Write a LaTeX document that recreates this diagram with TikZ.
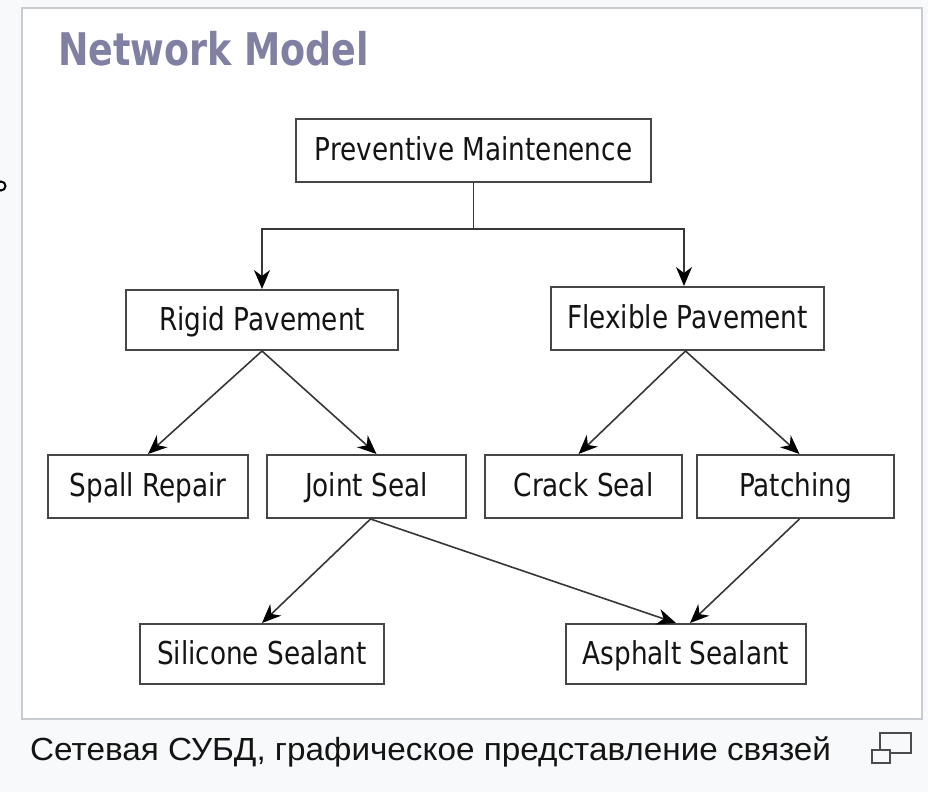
\documentclass[tikz,border=0pt]{standalone}
\usepackage{fontspec}
\setmainfont{DejaVu Sans}
\newfontfamily\capfont{Liberation Sans}
\usetikzlibrary{arrows.meta,calc}

\definecolor{pagebg}{RGB}{248,249,250}
\definecolor{framegray}{RGB}{200,204,209}
\definecolor{titlecol}{RGB}{128,128,162}
\definecolor{boxline}{RGB}{70,70,70}
\definecolor{linkline}{RGB}{55,55,55}
\definecolor{txt}{RGB}{20,20,20}

% box labels: slightly narrowed sans text
\newcommand{\boxlbl}[1]{\scalebox{0.835}[1]{\fontsize{31.5}{32}\selectfont #1}}

\tikzset{
  stepbox/.style={draw=boxline, line width=2pt, fill=white, minimum height=60pt,
    inner sep=0pt, text=txt, anchor=center, text height=25pt, text depth=5pt},
  link/.style={draw=linkline, line width=1.6pt,
    -{Stealth[length=19pt,width=16pt,inset=6pt,fill=black,color=black]}},
  plain/.style={draw=linkline, line width=1.6pt},
}

\begin{document}
\begin{tikzpicture}[x=1pt,y=-1pt]
  \useasboundingbox (0,0) rectangle (928,792);
  \fill[pagebg] (0,0) rectangle (928,792);
  \draw[framegray, line width=2pt, fill=white] (22,8) rectangle (922,719);

  % stray ring at the left edge
  \draw[black, line width=2pt] (1,186) circle (4.5);

  % heading
  \node[anchor=west, text=titlecol, inner sep=0pt] (title) at (58,49)
    {\scalebox{0.81}[1]{\fontsize{45}{46}\selectfont\bfseries Network Model}};

  % boxes
  \node[stepbox, minimum width=355pt, minimum height=63pt] (pm) at (473.5,150.5)
    {\boxlbl{Preventive Maintenence}};
  \node[stepbox, minimum width=272pt] (rigid) at (262,320) {\boxlbl{Rigid Pavement}};
  \node[stepbox, minimum width=273pt, minimum height=63pt] (flex) at (687.5,318.5) {\boxlbl{Flexible Pavement}};
  \node[stepbox, minimum width=200pt, minimum height=63pt] (spall) at (148,486.5) {\boxlbl{Spall Repair}};
  \node[stepbox, minimum width=199pt, minimum height=63pt] (joint) at (366.5,486.5) {\boxlbl{Joint Seal}};
  \node[stepbox, minimum width=197pt, minimum height=63pt] (crack) at (583.5,486.5) {\boxlbl{Crack Seal}};
  \node[stepbox, minimum width=197pt, minimum height=63pt] (patch) at (795.5,486.5) {\boxlbl{Patching}};
  \node[stepbox, minimum width=244pt] (silicone) at (262,654) {\boxlbl{Silicone Sealant}};
  \node[stepbox, minimum width=240pt] (asphalt) at (686,654) {\boxlbl{Asphalt Sealant}};

  % connectors
  \coordinate (split) at (473.5,229);
  \draw[plain] (pm.south) -- (split);
  \draw[link] (split) -| (rigid.north);
  \draw[link] (split) -| ($(flex.north)+(-3.5,0)$);
  \draw[link] (rigid.south) -- (spall.north);
  \draw[link] (rigid.south) -- ($(joint.north)+(10,0)$);
  \draw[link] ($(flex.south)+(-2,0)$) -- ($(crack.north)+(-5,0)$);
  \draw[link] ($(flex.south)+(-2,0)$) -- ($(patch.north)+(4,0)$);
  \draw[link] ($(joint.south)+(4,0)$) -- (silicone.north);
  \draw[link] ($(joint.south)+(4,0)$) -- ($(asphalt.north)+(-10,0)$);
  \draw[link] ($(patch.south)+(4,0)$) -- ($(asphalt.north)+(4,0)$);

  % caption under the frame
  \node[anchor=west, inner sep=0pt, text=txt] (caption) at (30,752)
    {\scalebox{1.04}[1]{\capfont\fontsize{32}{34}\selectfont Сетевая СУБД, графическое представление связей}};

  % enlarge icon
  \draw[draw=black!70, line width=2pt] (880,733) rectangle (911,753);
  \draw[draw=black!70, line width=2pt, fill=pagebg] (872,750) rectangle (890,763);
\end{tikzpicture}
\end{document}
